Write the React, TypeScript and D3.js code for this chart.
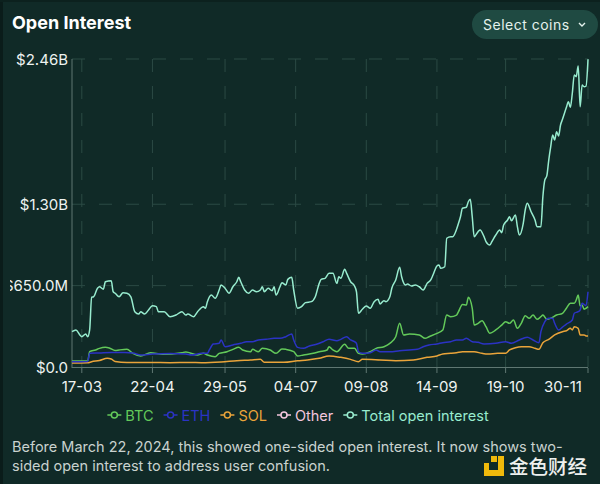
import React, { useMemo } from 'react';
import * as d3 from 'd3';

// ---------- data ----------
const START_DATE = '2024-03-12';
const END_DATE = '2024-11-30';
const X_TICK_DATES = ['2024-03-17', '2024-04-22', '2024-05-29', '2024-07-04', '2024-08-09', '2024-09-14', '2024-10-19', '2024-11-30'];
const X_TICK_LABELS = ['17-03', '22-04', '29-05', '04-07', '09-08', '14-09', '19-10', '30-11'];
const Y_TICKS = [0, 650, 1300, 2460]; // $M
const Y_TICK_LABELS = ['$0.0', '$650.0M', '$1.30B', '$2.46B'];
const Y_MAX = 2460;

// [days since START_DATE, open interest in $M]
const TOTAL: [number, number][] = [[0,282],[2,296],[4,256],[5,242],[7,264],[8,242],[9,296],[10,557],[11,561],[13,629],[14,641],[16,621],[17,681],[20,689],[21,601],[22,589],[24,561],[26,593],[28,589],[30,561],[32,442],[34,423],[35,442],[37,423],[39,455],[41,490],[43,482],[44,442],[47,442],[50,402],[53,415],[56,442],[58,415],[59,423],[62,402],[64,442],[67,482],[68,469],[69,522],[71,575],[73,549],[75,615],[76,655],[78,629],[80,589],[82,641],[84,681],[85,716],[86,681],[88,615],[90,589],[92,615],[94,601],[96,615],[97,641],[98,601],[100,629],[102,609],[103,641],[104,575],[106,641],[107,673],[109,655],[110,700],[112,716],[113,615],[115,469],[117,482],[119,514],[122,522],[124,561],[126,668],[127,700],[129,708],[131,748],[133,748],[135,668],[136,721],[137,708],[139,780],[140,748],[142,681],[144,647],[145,601],[146,429],[148,461],[150,487],[152,469],[154,522],[156,541],[157,503],[159,530],[160,522],[162,561],[163,629],[165,695],[167,796],[168,721],[170,655],[171,663],[173,647],[175,655],[177,641],[179,615],[181,668],[183,700],[184,735],[186,807],[187,815],[188,788],[190,801],[191,1028],[193,1041],[194,1041],[197,1148],[198,1200],[199,1268],[201,1276],[202,1320],[203,1339],[204,1200],[205,1041],[207,1081],[208,1094],[210,1041],[211,1001],[213,974],[214,1001],[216,1054],[218,1094],[219,1073],[220,1134],[222,1174],[223,1200],[224,1168],[226,1214],[227,1121],[228,1054],[230,1148],[231,1254],[232,1307],[234,1240],[236,1174],[237,1121],[239,1121],[240,1360],[241,1494],[242,1526],[243,1653],[244,1760],[245,1853],[246,1813],[247,1879],[248,1845],[249,1933],[250,1978],[252,2074],[253,2119],[254,2074],[255,2186],[256,2332],[257,2319],[258,2404],[259,2079],[260,2252],[261,2239],[262,2244],[263,2458]];

const BTC: [number, number][] = [[0,48],[8,48],[9,122],[12,136],[14,149],[17,157],[19,152],[22,132],[24,136],[28,141],[31,109],[35,88],[40,114],[46,101],[56,114],[58,120],[64,96],[67,109],[69,96],[73,82],[75,109],[79,122],[82,141],[85,157],[87,136],[91,122],[92,141],[95,122],[97,149],[101,136],[104,109],[107,144],[109,141],[113,122],[115,88],[118,96],[123,109],[126,122],[130,136],[131,162],[133,136],[135,122],[139,181],[141,149],[144,149],[146,109],[148,104],[152,122],[155,149],[159,162],[162,189],[165,242],[167,349],[169,256],[172,264],[177,256],[180,229],[182,242],[186,269],[189,296],[191,415],[193,402],[196,415],[197,442],[199,500],[201,495],[202,557],[204,469],[205,335],[207,349],[209,370],[211,322],[213,269],[216,296],[219,335],[221,362],[223,349],[225,375],[227,309],[229,349],[231,410],[233,389],[235,415],[237,381],[239,402],[240,415],[242,381],[244,389],[247,415],[250,429],[252,469],[254,509],[256,509],[257,535],[258,575],[259,487],[260,495],[261,461],[263,482]];

const ETH: [number, number][] = [[0,42],[8,44],[9,109],[14,112],[20,116],[27,116],[31,112],[35,96],[41,104],[50,108],[58,104],[61,96],[66,109],[69,109],[70,136],[72,184],[75,189],[76,216],[78,162],[82,176],[86,189],[89,202],[92,202],[95,216],[99,221],[103,229],[106,229],[109,242],[112,264],[113,216],[115,157],[118,149],[121,168],[125,184],[128,202],[131,222],[135,210],[137,221],[140,242],[142,216],[144,202],[145,189],[146,122],[148,109],[152,114],[155,136],[157,122],[162,122],[167,130],[172,136],[176,141],[179,162],[182,176],[186,184],[189,194],[193,202],[196,216],[199,216],[201,229],[204,202],[207,197],[210,184],[216,189],[221,202],[224,189],[228,216],[232,237],[235,216],[238,194],[239,282],[241,362],[243,389],[245,389],[246,349],[248,296],[250,319],[252,343],[255,375],[256,429],[258,442],[259,455],[260,509],[262,490],[263,601]];

const SOL: [number, number][] = [[0,32],[8,34],[10,42],[14,52],[18,69],[20,64],[22,44],[28,36],[40,36],[50,34],[60,36],[66,34],[76,40],[84,50],[91,56],[96,61],[98,38],[108,38],[115,50],[120,56],[126,69],[131,88],[137,77],[142,61],[146,42],[148,61],[157,56],[165,50],[174,56],[181,77],[186,88],[189,104],[193,109],[196,114],[199,122],[202,122],[205,122],[209,109],[212,104],[217,109],[221,109],[223,136],[226,154],[229,162],[233,162],[236,149],[238,141],[240,194],[243,221],[246,256],[250,282],[252,290],[254,309],[255,296],[256,322],[258,309],[259,256],[261,256],[262,248],[263,248]];

const LEGEND_NAMES = ['BTC', 'ETH', 'SOL', 'Other', 'Total open interest'];
const LEGEND_COLORS = ['#63c95a', '#2b33c4', '#eaa43a', '#f3c6de', '#98eccf'];

const FOOTNOTE = [
  'Before March 22, 2024, this showed one-sided open interest. It now shows two-',
  'sided open interest to address user confusion.',
];

// ---------- layout ----------
const W = 600;
const H = 484;
const PLOT = { left: 72, right: 588, top: 59, bottom: 367 };
const BG = '#102a27';
const GRID = '#2b4a44';
const AXIS = '#5f7772';
const FONT = 'Inter, "Noto Sans", sans-serif';

function measure(text: string, font: string): number {
  const c = document.createElement('canvas');
  const ctx = c.getContext('2d');
  if (!ctx) return text.length * 7;
  ctx.font = font;
  return ctx.measureText(text).width;
}

export default function App() {
  const parse = d3.timeParse('%Y-%m-%d');
  const start = parse(START_DATE) as Date;
  const end = parse(END_DATE) as Date;

  const x = d3.scaleTime().domain([start, end]).range([PLOT.left, PLOT.right]);
  const y = d3.scaleLinear().domain([0, Y_MAX]).range([PLOT.bottom, PLOT.top]);

  const toPts = (s: [number, number][]) => s.map(([d, v]) => ({ date: d3.timeDay.offset(start, d), v }));
  const line = d3
    .line<{ date: Date; v: number }>()
    .x((p) => x(p.date))
    .y((p) => y(p.v))
    .curve(d3.curveMonotoneX);

  const series = [
    { data: SOL, color: LEGEND_COLORS[2] },
    { data: BTC, color: LEGEND_COLORS[0] },
    { data: ETH, color: LEGEND_COLORS[1] },
    { data: TOTAL, color: LEGEND_COLORS[4] },
  ];

  const xTicks = X_TICK_DATES.map((s) => parse(s) as Date);

  const legendFont = `14.5px ${FONT}`;
  const legend = useMemo(() => {
    const iconW = 14;
    const gapIcon = 4;
    const gapItem = 10;
    const widths = LEGEND_NAMES.map((n) => measure(n, legendFont));
    const total = widths.reduce((a, w) => a + iconW + gapIcon + w, 0) + gapItem * (LEGEND_NAMES.length - 1);
    let cx = 298 - total / 2;
    return LEGEND_NAMES.map((n, i) => {
      const item = { name: n, color: LEGEND_COLORS[i], x: cx, tx: cx + iconW + gapIcon };
      cx += iconW + gapIcon + widths[i] + gapItem;
      return item;
    });
  }, []);

  return (
    <svg
      width={W}
      height={H}
      style={{ position: 'absolute', left: 0, top: 0, fontFamily: FONT }}
    >
      <defs>
        <clipPath id="ylab">
          <rect x={10} y={0} width={W} height={H} />
        </clipPath>
      </defs>
      <rect x={0} y={0} width={W} height={H} fill={BG} />
      <rect x={0} y={0} width={3} height={H} fill="#0a1c1a" />
      <rect x={0} y={0} width={W} height={2} fill="#0c211e" />

      {/* title */}
      <text x={12} y={29} fill="#ffffff" fontSize={18} fontWeight={700}>
        Open Interest
      </text>

      {/* select coins button */}
      <rect x={472} y={10} width={126} height={29} rx={14.5} fill="#1f4a42" />
      <text x={483} y={29.5} fill="#e4f2ed" fontSize={14} letterSpacing={0.5}>
        Select coins
      </text>
      <path d="M579,23 L582,26 L585,23" fill="none" stroke="#e4f2ed" strokeWidth={1.4} />

      {/* grid */}
      {xTicks.map((d, i) => (
        <line
          key={'gx' + i}
          x1={x(d)}
          x2={x(d)}
          y1={PLOT.top}
          y2={PLOT.bottom}
          stroke={GRID}
          strokeWidth={1}
          strokeDasharray="13 14"
        />
      ))}
      {Y_TICKS.filter((t) => t > 0).map((t, i) => (
        <line
          key={'gy' + i}
          x1={PLOT.left}
          x2={PLOT.right}
          y1={y(t)}
          y2={y(t)}
          stroke={GRID}
          strokeWidth={1}
          strokeDasharray="13 14"
        />
      ))}

      {/* axes */}
      <line x1={PLOT.left} x2={PLOT.left} y1={PLOT.top} y2={PLOT.bottom + 1} stroke={AXIS} strokeWidth={1} />
      <line x1={PLOT.left} x2={PLOT.right} y1={PLOT.bottom + 0.5} y2={PLOT.bottom + 0.5} stroke={AXIS} strokeWidth={1} />
      {xTicks.map((d, i) => (
        <line key={'tk' + i} x1={x(d)} x2={x(d)} y1={PLOT.bottom + 1} y2={PLOT.bottom + 6} stroke={AXIS} strokeWidth={1} />
      ))}

      <g clipPath="url(#ylab)">
        {Y_TICKS.map((t, i) => (
          <text key={'yl' + i} x={68} y={y(t) + 5.5} textAnchor="end" fill="#eef3f1" fontSize={15}>
            {Y_TICK_LABELS[i]}
          </text>
        ))}
      </g>
      {xTicks.map((d, i) => (
        <text key={'xl' + i} x={x(d) - (i === xTicks.length - 1 ? 25 : 0)} y={392} textAnchor="middle" fill="#eef3f1" fontSize={15}>
          {X_TICK_LABELS[i]}
        </text>
      ))}

      {/* lines */}
      {series.map((s, i) => (
        <path
          key={'ln' + i}
          d={line(toPts(s.data)) || ''}
          fill="none"
          stroke={s.color}
          strokeWidth={1.5}
          strokeLinejoin="round"
        />
      ))}

      {/* legend */}
      {legend.map((it, i) => (
        <g key={'lg' + i}>
          <line x1={it.x} x2={it.x + 14} y1={415} y2={415} stroke={it.color} strokeWidth={1.5} />
          <circle cx={it.x + 7} cy={415} r={3} fill={BG} stroke={it.color} strokeWidth={1.5} />
          <text x={it.tx} y={420.5} fill={it.color} fontSize={14.5}>
            {it.name}
          </text>
        </g>
      ))}

      {/* footnote */}
      {FOOTNOTE.map((t, i) => (
        <text key={'fn' + i} x={12} y={452 + i * 19} fill="#c9d2cf" fontSize={14.5}>
          {t}
        </text>
      ))}

      {/* watermark */}
      <g fill="#f0b90b">
        <rect x={491} y={456} width={6} height={6} />
        <rect x={498} y={456} width={6} height={20} />
        <rect x={484} y={470} width={20} height={6} />
        <rect x={484} y={463} width={5} height={7} />
      </g>
      <text x={509} y={474} fill="#eef0ee" fontSize={19.5} fontWeight={500} fontFamily={'"Noto Sans CJK SC", sans-serif'}>
        金色财经
      </text>
    </svg>
  );
}
